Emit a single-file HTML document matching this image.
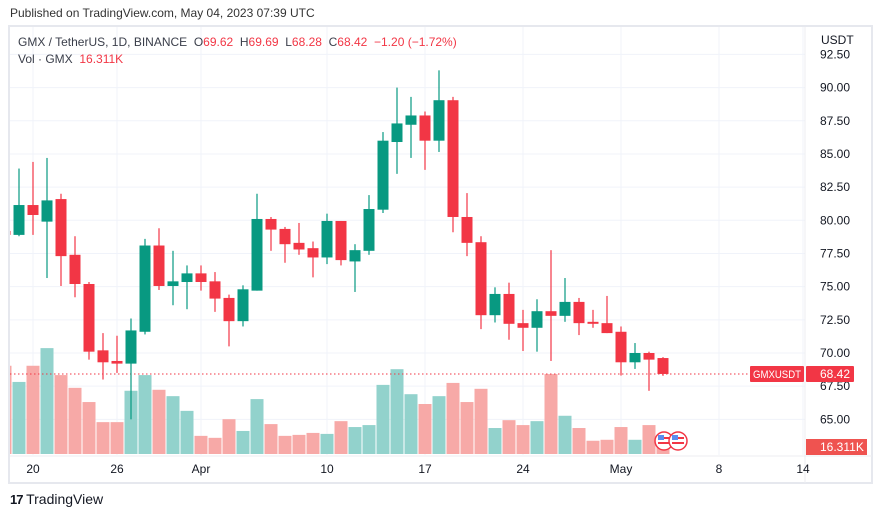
<!DOCTYPE html>
<html><head><meta charset="utf-8"><style>
body{margin:0;background:#fff;font-family:"Liberation Sans",sans-serif;}
#wrap{position:relative;width:882px;height:518px;overflow:hidden;background:#fff}
.t{position:absolute;white-space:nowrap;color:#131722}
</style></head><body>
<div id="wrap">
<div class="t" style="left:10px;top:6px;font-size:12px;color:#333">Published on TradingView.com, May 04, 2023 07:39 UTC</div>
<svg id="chart" width="882" height="518" style="position:absolute;left:0;top:0"></svg>
<div class="t" style="left:18px;top:35px;font-size:12px;color:#3a3e4a">GMX / TetherUS, 1D, BINANCE&nbsp; O<span style="color:#f23645">69.62</span>&nbsp; H<span style="color:#f23645">69.69</span>&nbsp; L<span style="color:#f23645">68.28</span>&nbsp; C<span style="color:#f23645">68.42</span>&nbsp; <span style="color:#f23645">−1.20 (−1.72%)</span></div>
<div class="t" style="left:18px;top:52px;font-size:12px;color:#3a3e4a">Vol · GMX&nbsp; <span style="color:#f23645">16.311K</span></div>
<div class="t" style="left:10px;top:491px;font-size:14px;color:#131722"><b style="font-size:13px;letter-spacing:-1px">17</b> TradingView</div>
</div>
<script>
const dates=['Mar18','Mar19','Mar20','Mar21','Mar22','Mar23','Mar24','Mar25','Mar26','Mar27','Mar28','Mar29','Mar30','Mar31','Apr1','Apr2','Apr3','Apr4','Apr5','Apr6','Apr7','Apr8','Apr9','Apr10','Apr11','Apr12','Apr13','Apr14','Apr15','Apr16','Apr17','Apr18','Apr19','Apr20','Apr21','Apr22','Apr23','Apr24','Apr25','Apr26','Apr27','Apr28','Apr29','Apr30','May1','May2','May3','May4'];
const opens=[79.2,78.9,81.15,79.9,81.6,77.4,75.2,70.2,69.4,69.2,71.6,78.1,75.05,75.35,76.0,75.4,74.15,72.4,74.7,80.1,79.35,78.3,77.9,77.2,79.95,76.9,77.7,80.8,85.9,87.2,87.9,86.0,89.05,80.25,78.35,72.85,74.45,72.25,71.9,73.15,72.8,73.85,72.35,72.25,71.6,69.3,70.0,69.62];
const highs=[79.5,83.9,84.4,84.7,82.0,78.8,75.35,71.5,71.3,72.6,78.6,79.4,77.7,76.6,76.6,76.1,74.4,75.1,82.0,80.25,79.5,79.8,78.4,80.5,79.95,78.2,81.9,86.65,90.0,89.3,88.2,91.3,89.3,82.05,78.8,74.95,75.3,73.25,74.05,77.75,75.65,74.15,73.25,74.3,72.0,70.75,70.1,69.69];
const lows=[78.6,78.8,78.9,75.65,75.05,74.2,69.5,68.0,68.5,65.0,71.4,74.75,73.6,73.3,74.7,73.1,70.5,72.0,74.7,77.7,76.8,77.4,75.7,76.7,76.6,74.6,77.4,80.55,83.5,84.7,83.8,85.15,79.1,77.3,71.8,72.3,71.0,70.15,70.1,69.4,72.35,71.35,71.9,71.5,68.3,68.8,67.15,68.28];
const closes=[78.9,81.15,80.4,81.5,77.3,75.2,70.1,69.3,69.2,71.7,78.1,75.05,75.4,76.0,75.35,74.1,72.4,74.8,80.1,79.3,78.2,77.8,77.2,79.95,77.0,77.75,80.85,86.0,87.3,87.9,86.0,89.05,80.25,78.3,72.85,74.45,72.2,71.9,73.15,72.8,73.85,72.25,72.2,71.5,69.3,70.0,69.5,68.42];
const volumes=[180,147,180,216,161,135,106,65,65,129,161,131,118,88,37,33,71,47,112,61,37,39,43,41,67,55,59,141,173,122,102,118,145,106,133,53,69,59,67,163,78,53,27,29,55,29,59,16.311];
const priceTicks=[65,67.5,70,72.5,75,77.5,80,82.5,85,87.5,90,92.5];
const timeTickLabels=['20','26','Apr','10','17','24','May','8','14'];
const timeTickIdx=[2,8,14,23,30,37,44,51,57];
const lastPrice=68.42, lastVolLabel='16.311K';

const svg=document.getElementById('chart');
const NS='http://www.w3.org/2000/svg';
const L=10,R=805,T=27,B=455;
const x=i=>5+i*14;
const y=v=>353-(v-70)*13.27;
const vy=v=>454-v/2.04;
function mk(tag,a,parent){const e=document.createElementNS(NS,tag);for(const k in a)e.setAttribute(k,a[k]);(parent||svg).appendChild(e);return e;}
const frame=mk('rect',{x:L-1,y:T-1,width:872-L+1,height:483-T+1,fill:'none',stroke:'#e6e8ee','stroke-width':2});


const defs=mk('defs',{});
const cp=mk('clipPath',{id:'plot'},defs);mk('rect',{x:L,y:T,width:R-L,height:B-T},cp);
const g=mk('g',{'clip-path':'url(#plot)'});


priceTicks.forEach(p=>{const l=mk('line',{x1:L,x2:R,y1:y(p),y2:y(p),stroke:'#f0f3fa'},g);

});
timeTickIdx.forEach(i=>{const l=mk('line',{x1:x(i),x2:x(i),y1:T,y2:B,stroke:'#f0f3fa'},g);

});
mk('line',{x1:R,x2:R,y1:T,y2:483,stroke:'#eceef2'});
mk('line',{x1:L,x2:872,y1:B+1,y2:B+1,stroke:'#eceef2'});
volumes.forEach((v,i)=>{const up=closes[i]>=opens[i];
const r=mk('rect',{x:x(i)-6.5,y:vy(v),width:13,height:454-vy(v),fill:up?'#92d2cc':'#f7a9a7'},g);

});
const pl=mk('line',{x1:L,x2:R,y1:y(lastPrice),y2:y(lastPrice),stroke:'#f23645','stroke-dasharray':'1.5 2.5','stroke-width':1},g);


dates.forEach((d,i)=>{const up=closes[i]>=opens[i];const c=up?'#089981':'#f23645';
const cg=mk('g',{},g);


mk('line',{x1:x(i),x2:x(i),y1:y(highs[i]),y2:y(lows[i]),stroke:c,'stroke-width':1.2},cg);
const top=y(Math.max(opens[i],closes[i])),bot=y(Math.min(opens[i],closes[i]));
mk('rect',{x:x(i)-5.5,y:top,width:11,height:Math.max(1.5,bot-top),fill:c},cg);});
[664,678].forEach(cx=>{const f=mk('g',{});


mk('circle',{cx:cx,cy:441,r:9,fill:'#fff',stroke:'#f23645','stroke-width':1.5},f);
mk('rect',{x:cx-6,y:437,width:12,height:2,fill:'#f23645'},f);
mk('rect',{x:cx-6,y:442,width:12,height:2,fill:'#f23645'},f);
mk('rect',{x:cx-6,y:435,width:6,height:5,fill:'#5b8def'},f);});
function txt(s,xx,yy,a){const t=mk('text',Object.assign({x:xx,y:yy,'font-size':12,'font-family':'Liberation Sans, sans-serif',fill:'#131722'},a||{}));t.textContent=s;return t;}
const u=txt('USDT',821,44);
priceTicks.forEach(p=>{const t=txt(p.toFixed(2),820,y(p)+4);

});
timeTickIdx.forEach((i,k)=>{const t=txt(timeTickLabels[k],x(i),473,{'text-anchor':'middle'});

});
const b1=mk('g',{});


mk('rect',{x:750,y:y(lastPrice)-8,width:54,height:16,rx:1,fill:'#f23645'},b1);
mk('rect',{x:806,y:y(lastPrice)-8,width:48,height:16,rx:1,fill:'#f23645'},b1);
b1.appendChild(txt('GMXUSDT',777,y(lastPrice)+4,{fill:'#fff','font-size':11,'text-anchor':'middle','textLength':48,'lengthAdjust':'spacingAndGlyphs'}));
b1.appendChild(txt(lastPrice.toFixed(2),820,y(lastPrice)+4,{fill:'#fff'}));
const b2=mk('g',{});


mk('rect',{x:806,y:439,width:61,height:16,fill:'#ef5350'},b2);
b2.appendChild(txt(lastVolLabel,820,451,{fill:'#fff'}));
</script>
</body></html>
